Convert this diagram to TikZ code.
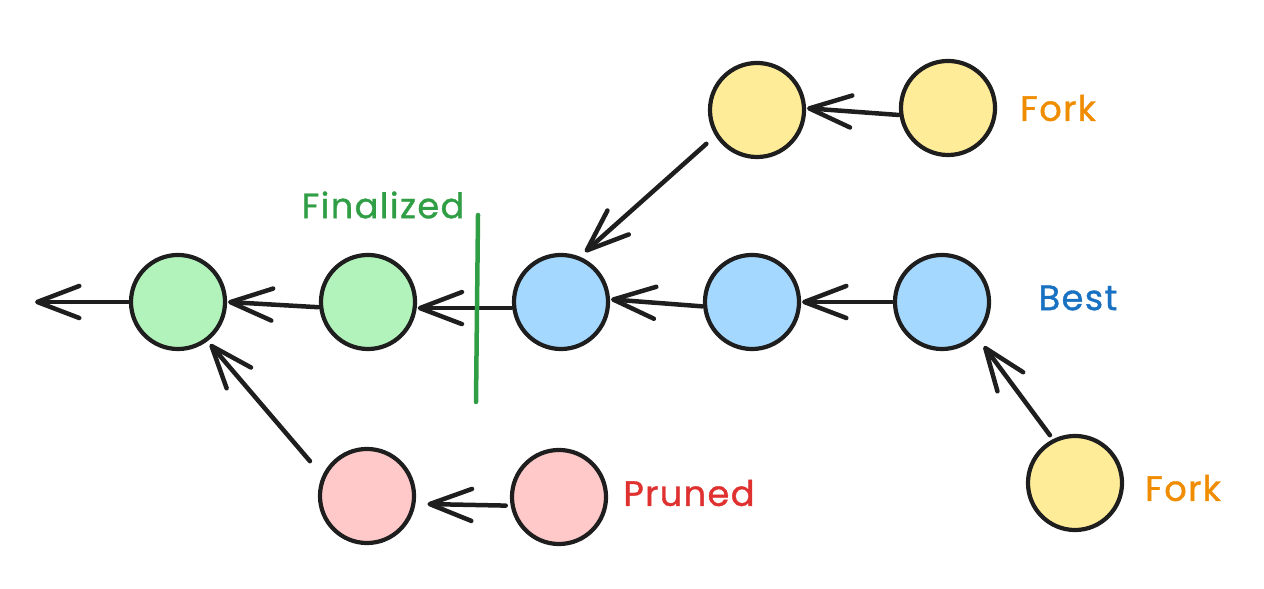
\documentclass[tikz,border=0pt]{standalone}
\usepackage{fontspec}
\setmainfont{Poppins}
\usetikzlibrary{arrows.meta}
\definecolor{ink}{HTML}{1E1E1E}
\definecolor{gfill}{HTML}{B2F2BB}
\definecolor{bfill}{HTML}{A5D8FF}
\definecolor{yfill}{HTML}{FFEC99}
\definecolor{pfill}{HTML}{FFC9C9}
\definecolor{gtext}{HTML}{2F9E44}
\definecolor{otext}{HTML}{F08C00}
\definecolor{btext}{HTML}{1971C2}
\definecolor{rtext}{HTML}{E03131}
\tikzset{
  blk/.style={circle, draw=ink, line width=0.042cm, minimum size=0.94cm, inner sep=0pt, outer sep=0.03cm},
  arr/.style={draw=ink, line width=0.045cm, line cap=round,
    -{Straight Barb[length=0.42cm,width=0.32cm,round]}},
  lbl/.style={font=\fontsize{10pt}{12pt}\selectfont\addfontfeatures{LetterSpace=4,FakeBold=1}, inner sep=0pt}
}
\begin{document}
\begin{tikzpicture}[x=0.01cm,y=-0.01cm]
\useasboundingbox (0,0) rectangle (1264,589);
% nodes
\node[blk, fill=gfill] (G1) at (178,302) {};
\node[blk, fill=gfill] (G2) at (368,302) {};
\node[blk, fill=bfill] (B1) at (561,302) {};
\node[blk, fill=bfill] (B2) at (752,302) {};
\node[blk, fill=bfill] (B3) at (942,302) {};
\node[blk, fill=yfill] (Y1) at (757,110) {};
\node[blk, fill=yfill] (Y2) at (948,108) {};
\node[blk, fill=pfill] (P1) at (367,496) {};
\node[blk, fill=pfill] (P2) at (559,497) {};
\node[blk, fill=yfill] (Y3) at (1075,483) {};
\coordinate (L) at (35,302);
% connectors
\draw[arr] (G1.west) -- (L);
\draw[arr] (G2.186) -- (G1.east);
\draw[arr] (B1.187) -- (G2.353);
\draw[arr] (B2.185) -- (B1.3);
\draw[arr] (B3.west) -- (B2.east);
\draw[arr] (Y2.188) -- (Y1.2);
\draw[arr, shorten <=0.11cm, shorten >=0.06cm] (Y1.212) -- (B1.67);
\draw[arr, shorten <=0.18cm, shorten >=0.03cm] (P1.155) -- (G1.-53);
\draw[arr, shorten <=0.04cm, shorten >=0.11cm] (P2.190) -- (P1.351);
\draw[arr, shorten <=0.04cm, shorten >=0.11cm] (Y3.117) -- (B3.-45);
% finalized marker
\coordinate (F1) at (478,215);
\coordinate (F2) at (476,402);
\draw[gtext, line width=0.045cm, line cap=round] (F1) -- (F2);
% labels
\node[lbl, text=gtext] (tF) at (383,205) {Finalized};
\node[lbl, text=otext] (tK1) at (1058,108) {Fork};
\node[lbl, text=btext] (tB) at (1078,298) {Best};
\node[lbl, text=rtext] (tP) at (689,493) {Pruned};
\node[lbl, text=otext] (tK2) at (1183,488) {Fork};
\end{tikzpicture}
\end{document}
